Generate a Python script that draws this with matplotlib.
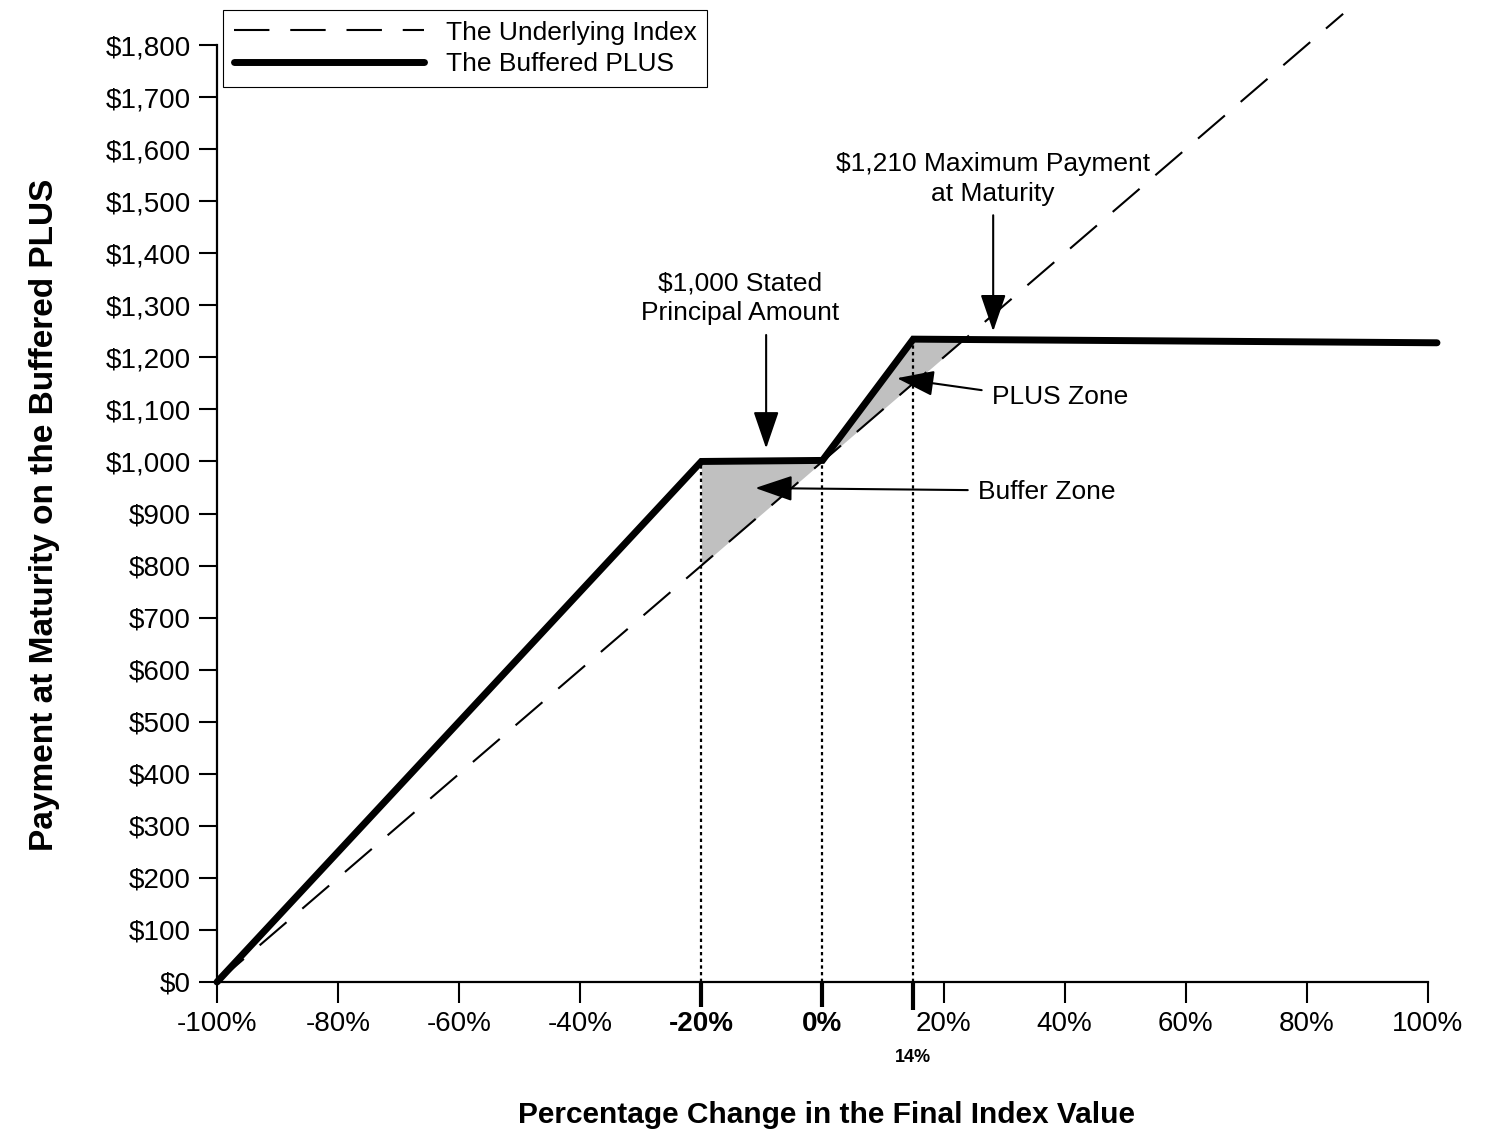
import numpy as np
import matplotlib
matplotlib.use("Agg")
import matplotlib.pyplot as plt
from matplotlib.ticker import FixedLocator, FixedFormatter

plt.rcParams['font.family'] = ['Liberation Sans', 'DejaVu Sans']

# Data (x in %, y in $)
index_x = [-100, 86]
index_y = [0, 1860]

plus_x = [-100, -20, 0, 15, 101.5]
plus_y = [0, 1000, 1002, 1235, 1228]

buffer_x = [-20, 0]
buffer_top = [1000, 1002]
buffer_bottom = [800, 1000]

pluszone_x = [0, 15, 23.5]
pluszone_top = [1002, 1235, 1235]
pluszone_bottom = [1000, 1150, 1235]

marker_x = [-20, 0, 15]
marker_y = [1000, 1002, 1235]

x_ticks = [-100, -80, -60, -40, -20, 0, 20, 40, 60, 80, 100]
x_labels = ["-100%", "-80%", "-60%", "-40%", "-20%", "0%", "20%", "40%", "60%", "80%", "100%"]
y_ticks = list(range(0, 1900, 100))
y_labels = ["${:,}".format(v) for v in y_ticks]

fig = plt.figure(figsize=(14.92, 11.42), dpi=100)
ax = fig.add_axes([217 / 1492, 160 / 1142, 1223 / 1492, 973.4 / 1142])

# shaded zones
ax.fill_between(buffer_x, buffer_bottom, buffer_top, color="#c0c0c0", lw=0)
ax.fill_between(pluszone_x, pluszone_bottom, pluszone_top, color="#c0c0c0", lw=0)

# dotted guides
for mx, my in zip(marker_x, marker_y):
    ax.plot([mx, mx], [0, my], color="black", lw=1.6, ls=(0, (1.5, 1.5)), zorder=2)

ax.plot(index_x, index_y, color="black", lw=1.5, dashes=(17, 10),
        label="The Underlying Index", zorder=3)
ax.plot(plus_x, plus_y, color="black", lw=5, solid_capstyle="round",
        solid_joinstyle="miter", label="The Buffered PLUS", clip_on=False, zorder=4)

ax.set_xlim(-100, 102)
ax.set_ylim(0, 1870)

for s in ["top", "right"]:
    ax.spines[s].set_visible(False)
ax.spines["bottom"].set_bounds(-100, 100)
ax.spines["left"].set_bounds(0, 1800)
ax.spines["bottom"].set_linewidth(1.6)
ax.spines["left"].set_linewidth(1.6)

ax.xaxis.set_major_locator(FixedLocator(x_ticks))
ax.xaxis.set_major_formatter(FixedFormatter(x_labels))
ax.xaxis.set_minor_locator(FixedLocator([15]))
ax.xaxis.set_minor_formatter(FixedFormatter(["14%"]))
ax.yaxis.set_major_locator(FixedLocator(y_ticks))
ax.yaxis.set_major_formatter(FixedFormatter(y_labels))

ax.tick_params(axis="x", which="major", direction="out", length=15, width=1.5,
               labelsize=20, pad=6)
ax.tick_params(axis="x", which="minor", direction="out", length=20, width=3,
               labelsize=13, pad=28)
ax.tick_params(axis="y", direction="out", length=13, width=1.5, labelsize=20, pad=6)

for t, lab in zip(ax.xaxis.get_major_ticks(), x_labels):
    if lab in ("-20%", "0%"):
        t.tick1line.set_markeredgewidth(3)
        t.tick1line.set_markersize(18)
        t.label1.set_fontweight("bold")
for t in ax.xaxis.get_minor_ticks():
    t.label1.set_fontweight("bold")

ax.set_xlabel("Percentage Change in the Final Index Value", fontsize=21.5,
              fontweight="bold")
ax.xaxis.set_label_coords(0.498, -0.122)
ax.set_ylabel("Payment at Maturity on the Buffered PLUS", fontsize=24,
              fontweight="bold")
ax.yaxis.set_label_coords(-0.128, 0.48)

# annotations
arrow = dict(arrowstyle="-|>,head_length=1.05,head_width=0.36", color="black",
             lw=1.5, mutation_scale=22, shrinkA=0, shrinkB=0)
txt = dict(fontsize=19, ha="center", va="center", linespacing=1.3)

ax.text(-13.6, 1313, "$1,000 Stated\nPrincipal Amount", **txt)
ax.annotate("", xy=(-9.3, 1025), xytext=(-9.3, 1243), arrowprops=arrow)

ax.text(28.2, 1543, "$1,210 Maximum Payment\nat Maturity", **txt)
ax.annotate("", xy=(28.2, 1250), xytext=(28.2, 1473), arrowprops=arrow)

ax.text(28, 1124, "PLUS Zone", fontsize=19, ha="left", va="center")
ax.annotate("", xy=(12.3, 1160), xytext=(26.3, 1137), arrowprops=arrow)

ax.text(25.7, 941, "Buffer Zone", fontsize=19, ha="left", va="center")
ax.annotate("", xy=(-11.1, 949), xytext=(24, 945), arrowprops=arrow)

leg = ax.legend(loc="upper left", bbox_to_anchor=(223 / 1492, 1 - 10 / 1142),
                bbox_transform=fig.transFigure, fontsize=19, frameon=True,
                fancybox=False, edgecolor="black", framealpha=1,
                handlelength=7.2, handletextpad=0.85, borderaxespad=0,
                borderpad=0.4, labelspacing=0.3)
leg.get_frame().set_linewidth(0.8)

fig.savefig("out.png", dpi=100)
